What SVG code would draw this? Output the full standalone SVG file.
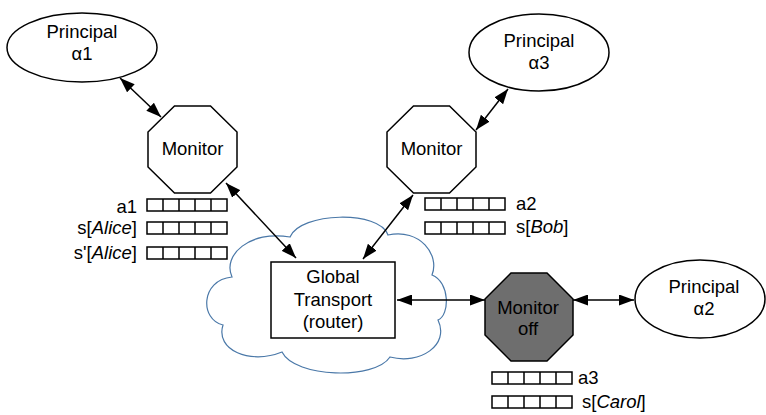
<svg xmlns="http://www.w3.org/2000/svg" width="766" height="415" viewBox="0 0 766 415">
<style>
text{font-family:"Liberation Sans",Arial,sans-serif;font-size:18.5px;fill:#000}
.c{text-anchor:middle}
.r{text-anchor:end}
.node{fill:#fff;stroke:#000;stroke-width:1.5}
.off{fill:#6e6e6e;stroke:#000;stroke-width:1.5}
.conn{stroke:#000;stroke-width:1.5;fill:none;marker-start:url(#ah);marker-end:url(#ah)}
.q{fill:#fff;stroke:#000;stroke-width:1.5}
</style>
<defs>
<marker id="ah" markerUnits="userSpaceOnUse" viewBox="0 0 15 11" refX="15" refY="5.5" markerWidth="15" markerHeight="11" orient="auto-start-reverse">
<path d="M0,0 L15,5.5 L0,11 z" fill="#000"/>
</marker>
<g id="queue">
<rect class="q" x="0" y="0" width="80" height="12"/>
<path d="M16,0V12M32,0V12M48,0V12M64,0V12" stroke="#000" stroke-width="1.5"/>
</g>
</defs>
<g id="cloud">
<path d="M232 277 C222 255,250 230,290 237 C300 212,380 210,388 235 C420 228,440 255,432 275 C450 282,450 315,438 320 C450 345,420 365,390 357 C375 380,295 378,282 352 C250 365,215 350,223 325 C200 320,200 280,232 277 Z" fill="#fff" stroke="#4a78a8" stroke-width="1.2"/>
</g>
<g id="connectors">
<line class="conn" x1="120" y1="78" x2="161" y2="117"/>
<line class="conn" x1="226" y1="183" x2="296" y2="258"/>
<line class="conn" x1="476" y1="130" x2="508" y2="89"/>
<line class="conn" x1="413" y1="195" x2="363" y2="259"/>
<line class="conn" x1="397" y1="300" x2="485" y2="300"/>
<line class="conn" x1="573" y1="300" x2="634" y2="300"/>
</g>
<g id="principal-a1">
<ellipse class="node" cx="82" cy="47.5" rx="75" ry="34.5"/>
<text class="c" x="82" y="38">Principal</text>
<text class="c" x="82" y="60">α1</text>
</g>
<g id="principal-a3">
<ellipse class="node" cx="539" cy="52.5" rx="70" ry="38.5"/>
<text class="c" x="539" y="47">Principal</text>
<text class="c" x="539" y="69">α3</text>
</g>
<g id="principal-a2">
<ellipse class="node" cx="700" cy="299" rx="65" ry="39"/>
<text class="c" x="704" y="293">Principal</text>
<text class="c" x="704" y="315">α2</text>
</g>
<g id="monitor-1">
<polygon class="node" points="174.5,106 210.5,106 237,132 237,167 210.5,193 174.5,193 148,167 148,132"/>
<text class="c" x="192.5" y="155">Monitor</text>
</g>
<g id="monitor-2">
<polygon class="node" points="413.5,106 449.5,106 476,132 476,167 449.5,193 413.5,193 387,167 387,132"/>
<text class="c" x="431.5" y="155">Monitor</text>
</g>
<g id="monitor-off">
<polygon class="off" points="511,273 547,273 573,299 573,335 547,361 511,361 485,335 485,299"/>
<text class="c" x="528" y="314">Monitor</text>
<text class="c" x="528" y="335">off</text>
</g>
<g id="global-transport">
<rect class="node" x="271" y="262" width="124" height="76"/>
<text class="c" x="333" y="283">Global</text>
<text class="c" x="333" y="306">Transport</text>
<text class="c" x="333" y="328">(router)</text>
</g>
<g id="queues-1">
<use href="#queue" x="147" y="199"/>
<use href="#queue" x="147" y="222"/>
<use href="#queue" x="147" y="247"/>
<text class="r" x="137" y="213">a1</text>
<text class="r" x="137" y="234">s[<tspan font-style="italic">Alice</tspan>]</text>
<text class="r" x="137" y="259">s'[<tspan font-style="italic">Alice</tspan>]</text>
</g>
<g id="queues-2">
<use href="#queue" x="425" y="198"/>
<use href="#queue" x="425" y="222"/>
<text x="516" y="210">a2</text>
<text x="516" y="233">s[<tspan font-style="italic">Bob</tspan>]</text>
</g>
<g id="queues-3">
<use href="#queue" x="492" y="372"/>
<use href="#queue" x="492" y="396"/>
<text x="578" y="384">a3</text>
<text x="582" y="408">s[<tspan font-style="italic">Carol</tspan>]</text>
</g>
</svg>
